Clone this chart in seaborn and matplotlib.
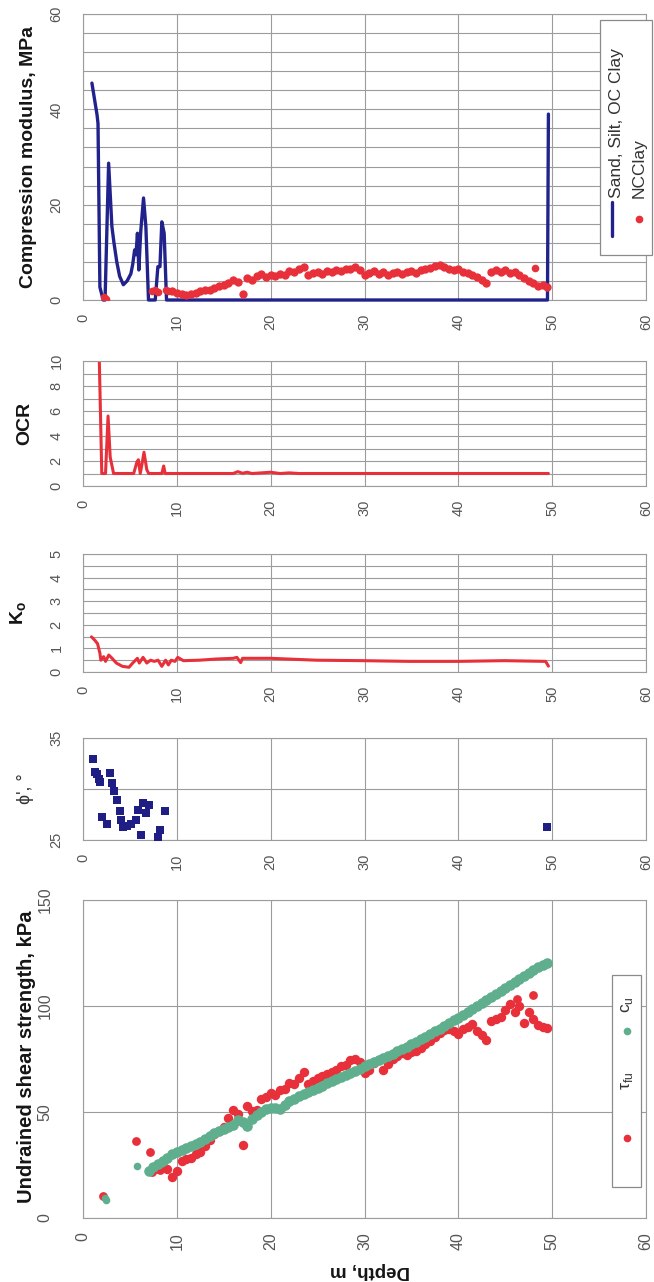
import numpy as np
import pandas as pd
import matplotlib
matplotlib.use("Agg")
import matplotlib.pyplot as plt
from matplotlib.ticker import FixedLocator
from matplotlib.patches import Rectangle
from matplotlib.lines import Line2D
import seaborn as sns

# ---------------------------------------------------------------- data
# Compression modulus (MPa) for sand, silt and over-consolidated clay
sand_depth = [0.95, 1.5, 1.6, 1.8, 2.15, 2.35, 2.73, 3.08, 3.3, 3.6, 3.9, 4.3,
              4.7, 5.1, 5.3, 5.5, 5.65, 5.8, 5.95, 6.15, 6.45, 6.7, 6.98, 7.7,
              7.98, 8.2, 8.4, 8.65, 8.9, 49.5, 49.6]
sand_mod = [45.5, 38.8, 37.0, 2.7, 0.0, 0.0, 28.7, 15.4, 12.0, 8.0, 5.0, 3.2,
            4.0, 5.5, 7.5, 10.5, 9.5, 14.0, 6.3, 14.3, 21.4, 15.4, 0.0, 0.0,
            7.0, 7.0, 16.4, 14.0, 0.0, 0.0, 39.0]

# Compression modulus (MPa) for normally consolidated clay
nc_depth_top = [2.2, 2.4, 7.4, 7.7, 8.0, 8.8, 9.1, 48.2]
nc_mod_top = [0.6, 0.3, 1.8, 2.0, 1.7, 2.1, 1.8, 6.8]
nc_depth = np.arange(9.5, 49.75, 0.5)
nc_mod = [1.8, 1.5, 1.2, 1.0, 1.3, 1.5, 1.9, 2.0, 2.2, 2.6,
          2.9, 3.1, 3.6, 4.3, 3.8, 1.2, 4.6, 4.2, 5.0, 5.4,
          4.9, 5.2, 5.0, 5.5, 5.3, 6.0, 5.8, 6.4, 7.0, 5.2,
          5.6, 5.9, 5.4, 6.1, 5.8, 6.3, 6.0, 6.6, 6.4, 7.0,
          6.2, 5.2, 5.6, 6.0, 5.5, 5.8, 5.3, 5.6, 5.9, 5.4,
          5.8, 6.1, 5.7, 6.2, 6.5, 6.8, 7.2, 7.4, 6.9, 6.6,
          6.2, 6.5, 5.9, 5.6, 5.2, 4.8, 4.2, 3.6, 5.8, 6.2,
          5.9, 6.3, 5.6, 5.9, 5.2, 4.6, 3.9, 3.5, 2.9, 3.1,
          2.7]

# Over-consolidation ratio
ocr_depth = [1.74, 2.0, 2.4, 2.67, 2.9, 3.26, 5.4, 5.74, 5.9, 6.1, 6.3, 6.5,
             6.8, 7.0, 8.4, 8.6, 8.75, 16.0, 16.5, 17.0, 17.5, 18.0, 19.0,
             20.0, 21.0, 22.0, 23.0, 49.6]
ocr_val = [10.0, 1.0, 1.0, 5.6, 2.3, 1.0, 1.0, 1.9, 2.1, 1.0, 1.8, 2.7,
           1.3, 1.0, 1.0, 1.6, 1.0, 1.0, 1.15, 1.02, 1.1, 1.0, 1.05,
           1.1, 1.0, 1.05, 1.0, 1.0]

# Coefficient of earth pressure at rest
k0_depth = [0.9, 1.25, 1.55, 1.8, 1.9, 2.2, 2.4, 2.75, 3.1, 3.55, 4.2, 4.9,
            5.3, 5.8, 6.0, 6.4, 6.8, 7.2, 7.6, 8.0, 8.4, 8.8, 9.1, 9.4, 9.8,
            10.1, 10.7, 12.4, 14.2, 16.0, 16.4, 16.8, 17.0, 20.0, 24.9,
            29.8, 34.7, 40.0, 44.9, 49.3, 49.6]
k0_val = [1.49, 1.35, 1.2, 0.8, 0.5, 0.65, 0.45, 0.72, 0.58, 0.38, 0.24, 0.2,
          0.38, 0.58, 0.38, 0.62, 0.38, 0.5, 0.45, 0.5, 0.24, 0.5, 0.3, 0.5,
          0.45, 0.62, 0.48, 0.5, 0.55, 0.58, 0.62, 0.4, 0.58, 0.58, 0.5,
          0.48, 0.45, 0.45, 0.48, 0.45, 0.25]

# Effective friction angle (degrees)
phi_depth = [1.1, 1.25, 1.5, 1.7, 1.8, 2.0, 2.6, 2.9, 3.1, 3.3, 3.6, 3.9,
             4.1, 4.3, 4.7, 5.1, 5.6, 5.9, 6.2, 6.4, 6.7, 7.0, 8.0, 8.2,
             8.7, 49.4]
phi_val = [32.9, 31.7, 31.5, 31.0, 30.7, 27.3, 26.6, 31.6, 30.6, 29.8, 28.9,
           27.8, 27.0, 26.3, 26.4, 26.6, 27.0, 27.9, 25.5, 28.6, 27.6, 28.4,
           25.3, 26.0, 27.8, 26.3]

# Undrained shear strength (kPa)
cu_depth_top = [2.3, 2.45, 5.8]
cu_top = [9.2, 8.3, 24.6]
cu_depth = np.arange(7.0, 49.75, 0.5)
cu_val = [22, 24, 25.5, 27, 28.5, 30, 31, 32, 33, 34,
          35, 36, 37.5, 38.7, 40, 41, 42, 43, 44, 46,
          45.5, 43.5, 46.5, 48.5, 50, 51.5, 52, 52, 51.5, 53.5,
          55, 56, 57.5, 58.5, 59.5, 60.5, 61.5, 62.5, 63.5, 64.5,
          65.5, 66.5, 67.5, 68.5, 69.5, 70.5, 71.5, 72.5, 73.5, 74.5,
          75.5, 76.5, 77.5, 78.6, 79.7, 80.8, 82, 83.2, 84.4, 85.6,
          86.8, 88, 89.3, 90.6, 91.9, 93.2, 94.5, 95.9, 97.3, 98.7,
          100.1, 101.5, 102.9, 104.3, 105.7, 107.1, 108.5, 109.9, 111.3, 112.7,
          114.1, 115.5, 116.9, 118.2, 119.4, 120.5]

tfu_depth_top = [2.1, 5.7, 7.1, 7.4, 7.8, 8.2, 46.3, 48.0]
tfu_top = [10.6, 36.5, 31, 21.5, 23, 22.5, 103.5, 105]
tfu_depth = np.arange(9.0, 49.75, 0.5)
tfu_val = [23, 19.5, 22, 27, 28, 28.5, 30, 31, 34, 37,
           39.5, 41, 43, 47, 51, 49, 34.5, 53, 50.5, 51,
           56, 57, 59, 58, 60.5, 61, 63.5, 63, 66, 69,
           63, 64.5, 66, 67, 68, 69, 70, 71.5, 72, 74.5,
           75, 73.5, 68.5, 70, 73, 74.5, 70, 72.5, 75, 76.5,
           78, 77, 78.5, 79, 80, 82, 83.5, 85.5, 87.5, 88.5,
           89, 88, 87, 89, 90, 91.5, 88, 86.5, 84, 93,
           94, 95, 98, 101, 97, 100, 92, 97, 94, 91,
           90, 89.5]

depth_ticks = [0, 10, 20, 30, 40, 50, 60]

# ---------------------------------------------------------------- style
sns.set_theme(style="white")
plt.rcParams["font.family"] = ["Liberation Sans", "DejaVu Sans"]

NAVY = "#22228c"
RED = "#e8303a"
GREEN = "#5fae8e"
SQUARE = "#1e1e84"
GRID = "#9c9c9c"
TICKC = "#555555"
LABELC = "#151515"

W, H = 654, 1282
fig = plt.figure(figsize=(W / 100, H / 100), dpi=100)
fig.patch.set_facecolor("white")


def fx(px):
    return px / W


def fy(py):
    return 1 - py / H


def make_axes(top, bottom, ylim, major, minor, tick_size=10.5, ypad=10):
    left, right = 83, 646
    ax = fig.add_axes([fx(left), fy(bottom), fx(right - left), (bottom - top) / H])
    ax.set_xlim(0, 60)
    ax.set_ylim(*ylim)
    ax.set_xticks(depth_ticks)
    ax.yaxis.set_major_locator(FixedLocator(major))
    ax.yaxis.set_minor_locator(FixedLocator(minor))
    ax.set_axisbelow(True)
    ax.grid(which="major", axis="both", color=GRID, lw=0.8)
    ax.grid(which="minor", axis="y", color=GRID, lw=0.8)
    for sp in ax.spines.values():
        sp.set_visible(True)
        sp.set_color(GRID)
        sp.set_linewidth(0.8)
    ax.tick_params(axis="both", which="both", direction="out", color=GRID,
                   width=0.8, labelcolor=TICKC, labelsize=tick_size)
    ax.tick_params(axis="both", which="major", length=4)
    ax.tick_params(axis="y", which="minor", length=4)
    ax.tick_params(axis="x", labelrotation=90, pad=6)
    ax.tick_params(axis="y", labelrotation=90, pad=ypad)
    for lab in ax.get_yticklabels():
        lab.set_verticalalignment("center")
    return ax


def finish(ax, ylim):
    ax.set_xlim(0, 60)
    ax.set_ylim(*ylim)
    ax.set_xlabel("")
    ax.set_ylabel("")


# ---------------------------------------------------------------- panel 1
lim1 = (0, 60)
ax1 = make_axes(14, 300, lim1, [0, 20, 40, 60], list(range(0, 61, 4)))
sns.lineplot(x=sand_depth, y=sand_mod, ax=ax1, color=NAVY, lw=2.4,
             estimator=None, sort=False, clip_on=False, zorder=3)
sns.scatterplot(x=nc_depth, y=nc_mod, ax=ax1, color=RED, s=36,
                linewidth=0, zorder=4)
sns.scatterplot(x=nc_depth_top, y=nc_mod_top, ax=ax1, color=RED, s=30,
                linewidth=0, zorder=4)
finish(ax1, lim1)

# ---------------------------------------------------------------- panel 2
lim2 = (0, 10)
ax2 = make_axes(361, 486, lim2, [0, 2, 4, 6, 8, 10], list(range(0, 11)))
sns.lineplot(x=ocr_depth, y=ocr_val, ax=ax2, color=RED, lw=2.2,
             estimator=None, sort=False)
finish(ax2, lim2)

# ---------------------------------------------------------------- panel 3
lim3 = (0, 5)
ax3 = make_axes(554, 672, lim3, [0, 1, 2, 3, 4, 5],
                [i * 0.5 for i in range(11)])
sns.lineplot(x=k0_depth, y=k0_val, ax=ax3, color=RED, lw=2.2,
             estimator=None, sort=False)
finish(ax3, lim3)

# ---------------------------------------------------------------- panel 4
lim4 = (25, 35)
ax4 = make_axes(738, 840, lim4, [25, 35], [30])
sns.scatterplot(x=phi_depth, y=phi_val, ax=ax4, color=SQUARE, marker="s",
                s=36, linewidth=0, zorder=3)
finish(ax4, lim4)

# ---------------------------------------------------------------- panel 5
lim5 = (0, 150)
ax5 = make_axes(900, 1218, lim5, [0, 50, 100, 150], [], tick_size=11.5,
                ypad=18)
sns.scatterplot(x=tfu_depth, y=tfu_val, ax=ax5, color=RED, s=46,
                linewidth=0, zorder=3)
sns.scatterplot(x=tfu_depth_top, y=tfu_top, ax=ax5, color=RED, s=40,
                linewidth=0, zorder=3)
sns.scatterplot(x=cu_depth, y=cu_val, ax=ax5, color=GREEN, s=58,
                linewidth=0, zorder=4)
sns.scatterplot(x=cu_depth_top, y=cu_top, ax=ax5, color=GREEN, s=30,
                linewidth=0, zorder=4)
finish(ax5, lim5)

# ---------------------------------------------------------------- axis titles
ylab = dict(rotation=90, ha="center", va="center", color=LABELC,
            fontweight="bold")
fig.text(fx(29), fy(157), "Compression modulus, MPa", fontsize=14, **ylab)
fig.text(fx(25), fy(423), "OCR", fontsize=14, **ylab)
fig.text(fx(19), fy(613), r"K$_\mathregular{o}$", fontsize=14, **ylab)
fig.text(fx(25), fy(789), "ϕ', °", fontsize=13, rotation=90, ha="center",
         va="center", color="#333333")
fig.text(fx(27), fy(1057), "Undrained shear strength, kPa", fontsize=14.5,
         **ylab)
fig.text(fx(370), fy(1270), "Depth, m", fontsize=13.5, rotation=180,
         ha="center", va="center", color=LABELC, fontweight="bold")

# ---------------------------------------------------------------- legends
leg_kw = dict(rotation=90, ha="center", va="bottom", color="#333333",
              fontsize=12.5)
fig.add_artist(Rectangle((fx(600), fy(255)), fx(52), (255 - 20) / H,
                         transform=fig.transFigure, facecolor="white",
                         edgecolor="#8a8a8a", lw=0.9, zorder=5))
fig.add_artist(Line2D([fx(612), fx(612)], [fy(236), fy(202)],
                      transform=fig.transFigure, color=NAVY, lw=2.4, zorder=6))
fig.text(fx(617), fy(198), "Sand, Silt, OC Clay", zorder=6, **leg_kw)
fig.add_artist(Line2D([fx(639)], [fy(219)], transform=fig.transFigure,
                      marker="o", ms=4.5, color=RED, ls="none", zorder=6))
fig.text(fx(639), fy(198), "NCClay", zorder=6, **leg_kw)

fig.add_artist(Rectangle((fx(612), fy(1187)), fx(29), (1187 - 975) / H,
                         transform=fig.transFigure, facecolor="white",
                         edgecolor="#8a8a8a", lw=0.9, zorder=5))
fig.add_artist(Line2D([fx(627)], [fy(1031)], transform=fig.transFigure,
                      marker="o", ms=4.5, color=GREEN, ls="none", zorder=6))
fig.text(fx(627), fy(1013), r"c$_\mathregular{u}$", zorder=6, **leg_kw)
fig.add_artist(Line2D([fx(627)], [fy(1138)], transform=fig.transFigure,
                      marker="o", ms=4.5, color=RED, ls="none", zorder=6))
fig.text(fx(627), fy(1090), r"τ$_\mathregular{fu}$", zorder=6, **leg_kw)

fig.savefig("out.png", dpi=100, facecolor="white")
